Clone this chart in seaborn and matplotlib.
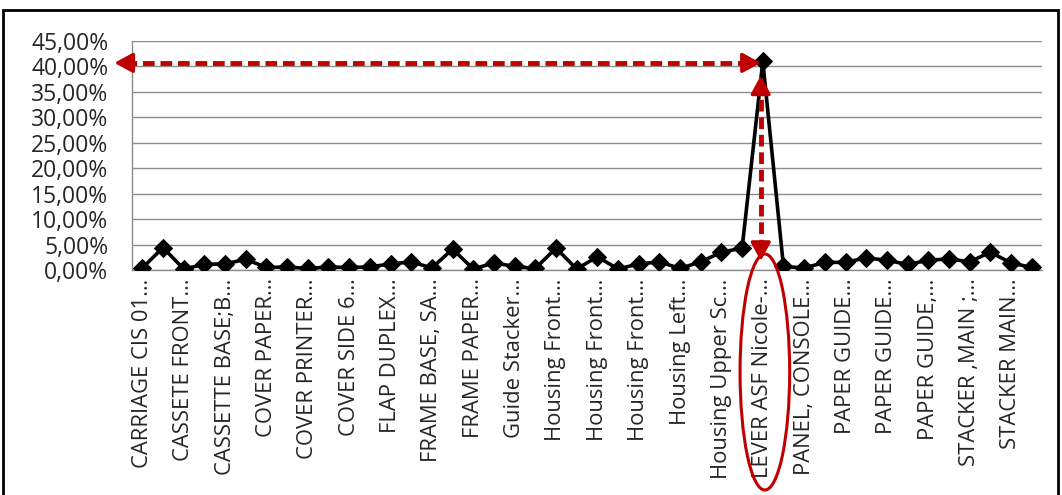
import numpy as np
import pandas as pd
import seaborn as sns
import matplotlib
matplotlib.use("Agg")
import matplotlib.pyplot as plt
from matplotlib.ticker import FuncFormatter, FixedLocator
from matplotlib.patches import Ellipse, Rectangle
from matplotlib.transforms import blended_transform_factory

# Share of defects per part (in %), 44 parts in catalogue order
share_pct = [0.4, 4.4, 0.2, 1.1, 1.2, 2.1, 0.5, 0.6, 0.3, 0.6,
             0.5, 0.6, 1.2, 1.6, 0.4, 4.1, 0.2, 1.4, 0.7, 0.3,
             4.3, 0.2, 2.6, 0.2, 1.2, 1.6, 0.3, 1.6, 3.5, 4.3,
             41.0, 0.7, 0.4, 1.5, 1.5, 2.4, 1.9, 1.1, 1.9, 2.2,
             1.6, 3.5, 1.4, 0.5]

# Axis labels shown on every second part
part_labels = ["CARRIAGE CIS 01…", "CASSETE FRONT…", "CASSETTE BASE;B…",
               "COVER PAPER…", "COVER PRINTER…", "COVER SIDE 6…",
               "FLAP DUPLEX…", "FRAME BASE, SA…", "FRAME PAPER…",
               "Guide Stacker…", "Housing Front…", "Housing Front…",
               "Housing Front…", "Housing Left…", "Housing Upper Sc…",
               "LEVER ASF Nicole-…", "PANEL, CONSOLE…", "PAPER GUIDE…",
               "PAPER GUIDE…", "PAPER GUIDE,…", "STACKER ,MAIN ;…",
               "STACKER MAIN…"]

y_ticks = [0, 5, 10, 15, 20, 25, 30, 35, 40, 45]

peak_idx = int(np.argmax(share_pct))
peak_val = share_pct[peak_idx]

sns.set_style("white")
plt.rcParams["font.family"] = ["Open Sans", "DejaVu Sans"]

W, H = 1062, 495
fig = plt.figure(figsize=(W / 100, H / 100), dpi=100)
ax = fig.add_axes([132 / W, 1 - 270 / H, (1042 - 132) / W, (270 - 41) / H])

df = pd.DataFrame({"idx": np.arange(len(share_pct)), "share": share_pct})
sns.lineplot(data=df, x="idx", y="share", ax=ax, color="black", lw=2.6,
             marker="D", markersize=9.5, markeredgecolor="black", zorder=5)

n = len(share_pct)
ax.set_xlim(-0.5, n - 0.5)
ax.set_ylim(0, 45)
ax.set_xlabel("")
ax.set_ylabel("")

grid_col = "#8c8c8c"
ax.set_yticks(y_ticks)
ax.yaxis.set_major_formatter(FuncFormatter(lambda v, p: f"{v:.2f}".replace(".", ",") + "%"))
ax.grid(axis="y", color=grid_col, lw=1.0)
ax.grid(axis="x", visible=False)
ax.tick_params(axis="y", length=7, width=1, color=grid_col, labelsize=16.5, pad=10)

ax.set_xticks(np.arange(0, n, 2))
ax.set_xticklabels(part_labels, rotation=90, va="top", ha="center")
ax.tick_params(axis="x", which="major", length=0, labelsize=15.8, pad=6)
ax.xaxis.set_minor_locator(FixedLocator(np.arange(-0.5, n, 2)))
ax.tick_params(axis="x", which="minor", length=6, width=1, color=grid_col)

for s in ["top", "right"]:
    ax.spines[s].set_visible(False)
for s in ["left", "bottom"]:
    ax.spines[s].set_color(grid_col)
    ax.spines[s].set_linewidth(1.0)

# Highlight arrows pointing at the dominant part
red = "#c00000"
dash_kw = dict(color=red, lw=3.5, dashes=(2.4, 1.2), clip_on=False, zorder=6,
               solid_capstyle="butt", dash_capstyle="butt")
head_kw = dict(arrowstyle="-|>,head_length=0.55,head_width=0.3", color=red,
               lw=2.5, mutation_scale=20, shrinkA=0, shrinkB=0)

hx0, hx1, hy = -1.35, peak_idx - 0.1, peak_val - 0.3
ax.plot([hx0 + 0.5, hx1 - 0.5], [hy, hy], **dash_kw)
ax.annotate("", xy=(hx0, hy), xytext=(hx0 + 0.8, hy), arrowprops=head_kw,
            annotation_clip=False, zorder=7)
ax.annotate("", xy=(hx1, hy), xytext=(hx1 - 0.8, hy), arrowprops=head_kw,
            annotation_clip=False, zorder=7)

vx, vy0, vy1 = peak_idx - 0.1, 1.8, peak_val - 2.8
ax.plot([vx, vx], [vy0 + 2, vy1 - 2], **dash_kw)
ax.annotate("", xy=(vx, vy0), xytext=(vx, vy0 + 3), arrowprops=head_kw,
            annotation_clip=False, zorder=7)
ax.annotate("", xy=(vx, vy1), xytext=(vx, vy1 - 3), arrowprops=head_kw,
            annotation_clip=False, zorder=7)

# Ellipse around the highlighted part label
trans = blended_transform_factory(ax.transData, fig.transFigure)
ell = Ellipse((peak_idx + 0.1, 1 - 372 / H), width=2.4, height=236 / H,
              transform=trans, fill=False, edgecolor=red, lw=2.2,
              clip_on=False, zorder=8)
fig.add_artist(ell)

# Outer frame
fig.add_artist(Rectangle((3 / W, -0.05), (1058 - 3) / W, 1.05 - 10 / H,
                         transform=fig.transFigure, fill=False,
                         edgecolor="black", lw=2.0))

fig.savefig("out.png", dpi=100, facecolor="white")
